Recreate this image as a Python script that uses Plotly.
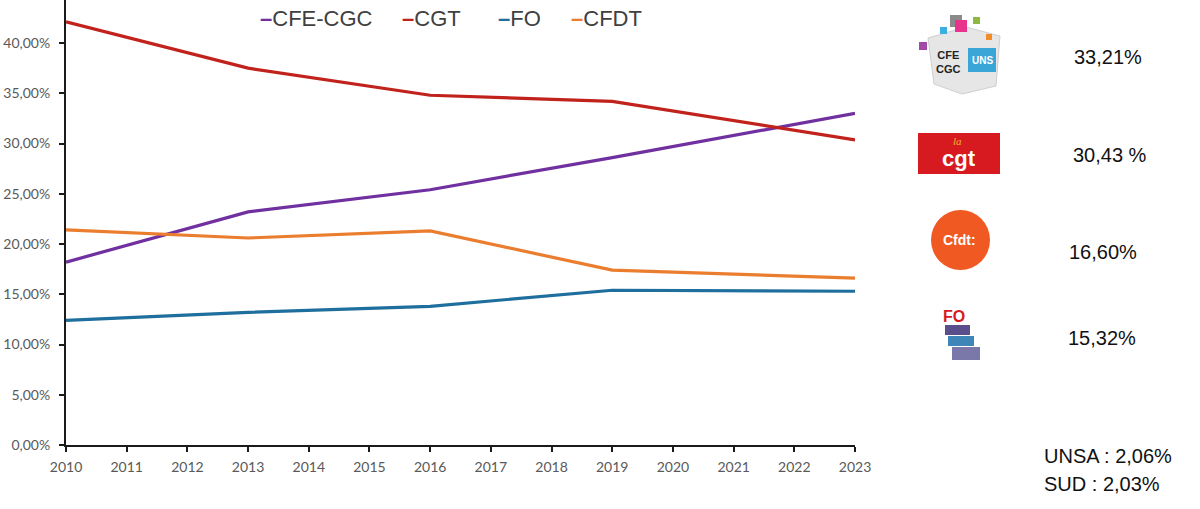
import plotly.graph_objects as go

years = [2010, 2013, 2016, 2019, 2023]
cfe_cgc = [18.2, 23.2, 25.4, 28.6, 33.0]
cgt = [42.1, 37.5, 34.8, 34.2, 30.35]
fo = [12.4, 13.2, 13.8, 15.4, 15.3]
cfdt = [21.4, 20.6, 21.3, 17.4, 16.6]

series_names = ["CFE-CGC", "CGT", "FO", "CFDT"]
series_values = [cfe_cgc, cgt, fo, cfdt]
colors = ["#7030A0", "#C1221B", "#1F6F9E", "#EA7E2E"]

results = ["33,21%", "30,43 %", "16,60%", "15,32%"]
others = ["UNSA : 2,06%", "SUD : 2,03%"]

W, H = 1200, 509
L, R, T, B = 66, 855, 0, 445


def px(x):
    return (x - L) / (R - L)


def py(y):
    return (B - y) / (B - T)


fig = go.Figure()
for name, vals, col in zip(series_names, series_values, colors):
    fig.add_trace(go.Scatter(x=years, y=vals, mode="lines", name=name,
                             line=dict(color=col, width=3.2), showlegend=False))

annotations = []
# manual legend
leg_x = [258, 400, 496, 569]
for name, col, lx in zip(series_names, colors, leg_x):
    annotations.append(dict(
        xref="paper", yref="paper", x=px(lx), y=py(18), xanchor="left", yanchor="middle",
        text=f"<span style='color:{col}'><b>–</b></span>{name}", showarrow=False,
        font=dict(family="Liberation Sans, Arial", size=22, color="#404040")))

res_pos = [(1108, 57), (1110, 155), (1103, 252), (1102, 338)]
for txt, (x, y) in zip(results, res_pos):
    annotations.append(dict(xref="paper", yref="paper", x=px(x), y=py(y),
                            xanchor="center", yanchor="middle", text=txt, showarrow=False,
                            font=dict(family="Liberation Sans, Arial", size=20, color="#111111")))
for txt, y in zip(others, [456, 484]):
    annotations.append(dict(xref="paper", yref="paper", x=px(1042), y=py(y),
                            xanchor="left", yanchor="middle", text=txt, showarrow=False,
                            font=dict(family="Liberation Sans, Arial", size=20, color="#111111")))

shapes = []


def rect(x0, y0, x1, y1, color, line=None):
    shapes.append(dict(type="rect", xref="paper", yref="paper",
                       x0=px(x0), x1=px(x1), y0=py(y1), y1=py(y0),
                       fillcolor=color, line=dict(width=0 if line is None else 1, color=line or color),
                       layer="above"))


# CFE-CGC cube logo (simplified)
shapes.append(dict(type="path", xref="paper", yref="paper",
                   path=f"M {px(928)},{py(38)} L {px(966)},{py(27)} L {px(1000)},{py(36)} L {px(996)},{py(86)} L {px(962)},{py(94)} L {px(934)},{py(84)} Z",
                   fillcolor="#E6E6E6", line=dict(color="#CFCFCF", width=1), layer="above"))
rect(968, 48, 996, 72, "#3AA6D8")
rect(950, 15, 962, 27, "#8A8A8A")
rect(955, 20, 967, 32, "#E8348C")
rect(973, 17, 980, 24, "#8DB842")
rect(940, 27, 947, 34, "#3AB0E0")
rect(919, 42, 927, 50, "#A24AA8")
rect(986, 34, 992, 40, "#F28C28")
annotations.append(dict(xref="paper", yref="paper", x=px(948), y=py(62), text="<b>CFE<br>CGC</b>",
                        showarrow=False, font=dict(family="Liberation Sans", size=11, color="#222"),
                        xanchor="center", yanchor="middle"))
annotations.append(dict(xref="paper", yref="paper", x=px(982), y=py(60), text="<b>UNS</b>",
                        showarrow=False, font=dict(family="Liberation Sans", size=10, color="#ffffff"),
                        xanchor="center", yanchor="middle"))

# CGT logo
rect(918, 133, 1000, 174, "#D71920")
annotations.append(dict(xref="paper", yref="paper", x=px(959), y=py(158), text="<b>cgt</b>",
                        showarrow=False, font=dict(family="Liberation Sans", size=22, color="#ffffff"),
                        xanchor="center", yanchor="middle"))
annotations.append(dict(xref="paper", yref="paper", x=px(957), y=py(141), text="<i>la</i>",
                        showarrow=False, font=dict(family="Liberation Serif", size=11, color="#F5B52E"),
                        xanchor="center", yanchor="middle"))

# CFDT logo
shapes.append(dict(type="circle", xref="paper", yref="paper",
                   x0=px(931), x1=px(990), y0=py(270), y1=py(210),
                   fillcolor="#F05A22", line=dict(width=0), layer="above"))
annotations.append(dict(xref="paper", yref="paper", x=px(960), y=py(240), text="<b>Cfdt:</b>",
                        showarrow=False, font=dict(family="Liberation Sans", size=14, color="#ffffff"),
                        xanchor="center", yanchor="middle"))

# FO logo
rect(945, 325, 970, 335, "#5A4E8C")
rect(948, 336, 974, 346, "#3F86B8")
rect(952, 347, 980, 360, "#7A78A8")
annotations.append(dict(xref="paper", yref="paper", x=px(954), y=py(316), text="<b>FO</b>",
                        showarrow=False, font=dict(family="Liberation Sans", size=16, color="#D71920"),
                        xanchor="center", yanchor="middle"))

tick_font = dict(family="Lato, Carlito, sans-serif", size=14, color="#595959")
fig.update_layout(
    width=W, height=H,
    margin=dict(l=L, r=W - R, t=T, b=H - B),
    paper_bgcolor="white", plot_bgcolor="white",
    separators=", ",
    annotations=annotations, shapes=shapes,
    xaxis=dict(range=[2010, 2023], tickmode="array", tickvals=list(range(2010, 2024)),
               ticktext=[str(y) for y in range(2010, 2024)],
               showgrid=False, zeroline=False, showline=True, linecolor="#1a1a1a", linewidth=2,
               ticks="outside", ticklen=5, tickwidth=2, tickcolor="#1a1a1a",
               ticklabelstandoff=3, tickfont=tick_font),
    yaxis=dict(range=[0, 44.28], tickmode="array", tickvals=[0, 5, 10, 15, 20, 25, 30, 35, 40],
               ticktext=["0,00%", "5,00%", "10,00%", "15,00%", "20,00%", "25,00%", "30,00%", "35,00%", "40,00%"],
               showgrid=False, zeroline=False, showline=True, linecolor="#1a1a1a", linewidth=2,
               ticks="outside", ticklen=5, tickwidth=2, tickcolor="#1a1a1a",
               ticklabelstandoff=6, tickfont=tick_font),
)

fig.write_html("out.html", config={"displayModeBar": False},
               post_script="document.body.style.margin='0';document.body.style.overflow='hidden';")
